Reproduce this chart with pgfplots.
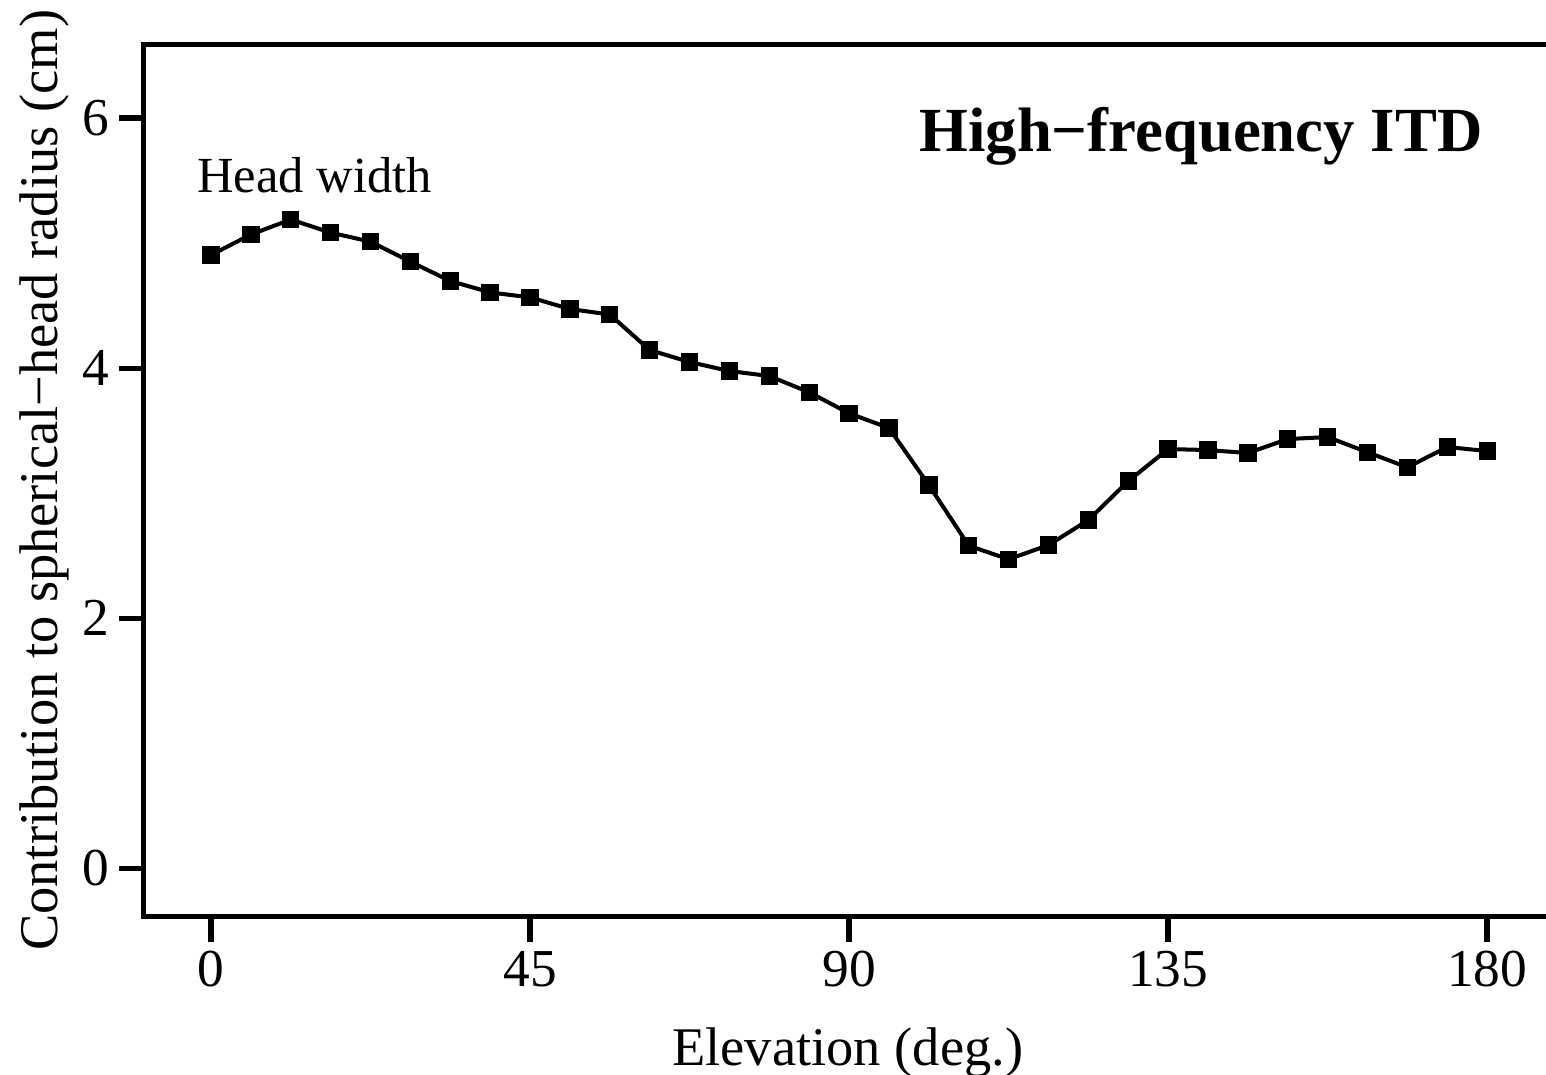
\documentclass[border=0pt]{standalone}
\usepackage{fontspec}
\setmainfont{Liberation Serif}
\usepackage{pgfplots}
\pgfplotsset{compat=1.18}
\begin{document}
\begin{tikzpicture}
\begin{axis}[
  at={(0,0)}, anchor=south west,
  scale only axis, width=506.72pt, height=314.17pt,
  xmin=-9.45, xmax=189.08, ymin=-0.387, ymax=6.594,
  xtick={0,45,90,135,180}, ytick={0,2,4,6},
  tick pos=left,
  tick align=outside,
  major tick length=9pt,
  minor tick num=0,
  tick style={black, line width=2pt},
  major tick style={black, line width=2pt},
  axis line style={line width=1.8pt},
  tick label style={font=\fontsize{19.2}{22}\selectfont},
  /pgf/number format/assume math mode=true,
  xlabel={Elevation (deg.)},
  ylabel={Contribution to spherical−head radius (cm)},
  label style={font=\fontsize{19.6}{23}\selectfont},
  xlabel style={at={(axis description cs:0.5,0)}, anchor=base, yshift=-53.4pt},
  ylabel style={at={(axis description cs:0,0.5)}, anchor=base, yshift=31pt},
  clip=false,
]
\addplot[black, line width=1.45pt, mark=square*, mark size=2.4pt, mark options={solid, fill=black}] coordinates {
(0,4.906) (5.625,5.07) (11.25,5.19) (16.875,5.085) (22.5,5.013) (28.125,4.853)
(33.75,4.698) (39.375,4.607) (45,4.567) (50.625,4.474) (56.25,4.43)
(61.875,4.146) (67.5,4.05) (73.125,3.978) (78.75,3.938) (84.375,3.808)
(90,3.64) (95.625,3.522) (101.25,3.066) (106.875,2.581) (112.5,2.472)
(118.125,2.586) (123.75,2.786) (129.375,3.098) (135,3.354) (140.625,3.346)
(146.25,3.322) (151.875,3.434) (157.5,3.45) (163.125,3.328) (168.75,3.208)
(174.375,3.37) (180,3.338)
};
\node[anchor=base west, font=\fontsize{18.2}{22}\selectfont, inner sep=0pt] at (axis cs:-2,5.41) {Head width};
\node[anchor=base east, font=\fontsize{22.6}{26}\selectfont\bfseries, inner sep=0pt] at (axis cs:179.4,5.733) {High−frequency ITD};
\end{axis}
\pgfresetboundingbox
\useasboundingbox (-51.84pt,-56.63pt) rectangle (504.72pt,330.01pt);
\end{tikzpicture}
\end{document}
